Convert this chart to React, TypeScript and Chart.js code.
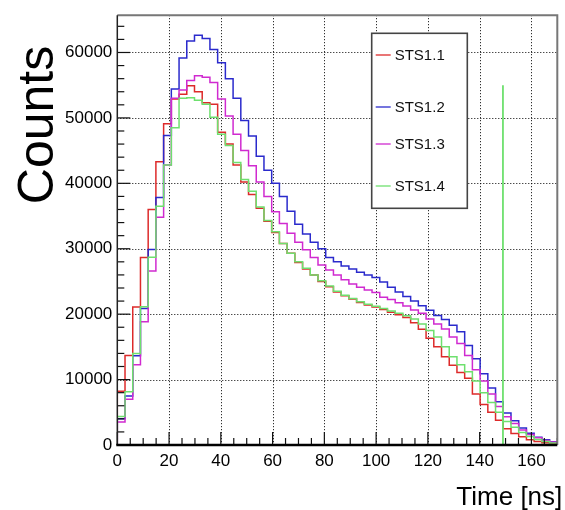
import React, { useEffect, useRef } from "react";
import { Chart, registerables } from "chart.js";

Chart.register(...registerables);

// ---- data ----
const timeMin = 0;
const timeMax = 170;
const countsMax = 65700;
const binCount = 57;
const binWidth = (timeMax - timeMin) / binCount;

const seriesLabels = ["STS1.1", "STS1.2", "STS1.3", "STS1.4"];
const seriesColors = ["#dd2a2a", "#2a2acc", "#d02ad0", "#6ee06e"];

const sts11 = [
  8200, 13700, 21100, 28650, 36000, 43300, 49100, 52900, 53600, 54900,
  54000, 52300, 52100, 47800, 46000, 42800, 40200, 38300, 36200, 34200,
  32500, 30800, 29300, 27900, 26900, 26000, 25000, 24200, 23400, 22800,
  22300, 21800, 21400, 21100, 20700, 20300, 19900, 19500, 18700, 17700,
  16300, 15000, 13500, 12200, 11100, 10200, 7800, 6200, 5000, 3800,
  2500, 1750, 1250, 800, 550, 350, 200,
];
const sts12 = [
  4000, 7500, 13650, 20850, 29900, 37850, 47300, 54400, 59150, 61750,
  62650, 62150, 60450, 58450, 56000, 53000, 49600, 47250, 44150, 42000,
  40000, 38000, 35750, 33750, 32250, 31000, 30000, 28650, 28000, 27350,
  26900, 26400, 26000, 25600, 24900, 24100, 23400, 22700, 22000, 21300,
  20600, 19800, 19200, 18300, 17300, 15200, 13200, 10900, 8700, 6600,
  4900, 3700, 2600, 1800, 1200, 800, 500,
];
const sts13 = [
  3500, 7000, 12250, 18850, 26600, 34800, 42800, 53000, 54250, 55700,
  56450, 56200, 55400, 52900, 50300, 47500, 45000, 42700, 40200, 38000,
  35650, 33850, 32350, 31000, 29850, 28650, 27500, 26750, 26000, 25250,
  24600, 24100, 23700, 23300, 22600, 22250, 21750, 21250, 20650, 20150,
  19250, 18500, 17750, 16500, 15500, 13700, 11500, 9800, 7800, 5900,
  4300, 3300, 2300, 1600, 1100, 700, 450,
];
const sts14 = [
  4350, 8150, 14000, 21150, 28700, 36500, 42800, 48500, 53000, 53100,
  52700, 52100, 50100, 47500, 45800, 43200, 40600, 38800, 36400, 34300,
  32600, 30800, 29300, 28000, 27000, 26000, 25100, 24300, 23500, 22900,
  22400, 21900, 21500, 21200, 20850, 20500, 20150, 19750, 19250, 18500,
  17500, 16500, 15000, 13500, 12250, 11200, 9800, 8000, 6500, 5000,
  3600, 2700, 1900, 1300, 850, 550, 300,
];
const spikeTime = 149;
const spikeCounts = 55000;

const xTickValues = [0, 20, 40, 60, 80, 100, 120, 140, 160];
const yTickValues = [0, 10000, 20000, 30000, 40000, 50000, 60000];
const xMinorStep = 5;
const yMinorStep = 2000;

const xTitle = "Time [ns]";
const yTitle = "Counts";

const FONT = "'Liberation Sans', Arial, Helvetica, sans-serif";

function histPoints(values: number[]) {
  const pts: { x: number; y: number }[] = [{ x: timeMin, y: 0 }];
  values.forEach((v, k) => pts.push({ x: timeMin + k * binWidth, y: v }));
  pts.push({ x: timeMax, y: values[values.length - 1] });
  return pts;
}

const rootPlugin = {
  id: "rootStyle",
  beforeDatasetsDraw(chart: any) {
    const { ctx, chartArea: a, scales } = chart;
    ctx.save();
    ctx.strokeStyle = "#000";
    ctx.lineWidth = 1;
    ctx.setLineDash([1, 2]);
    for (const t of scales.x.ticks) {
      if (t.value <= timeMin) continue;
      const px = Math.round(scales.x.getPixelForValue(t.value)) + 0.5;
      ctx.beginPath();
      ctx.moveTo(px, a.top);
      ctx.lineTo(px, a.bottom);
      ctx.stroke();
    }
    for (const t of scales.y.ticks) {
      if (t.value <= 0) continue;
      const py = Math.round(scales.y.getPixelForValue(t.value)) + 0.5;
      ctx.beginPath();
      ctx.moveTo(a.left, py);
      ctx.lineTo(a.right, py);
      ctx.stroke();
    }
    ctx.restore();
  },
  afterDatasetsDraw(chart: any) {
    const { ctx, chartArea: a, scales } = chart;
    ctx.save();
    ctx.setLineDash([]);
    ctx.strokeStyle = "#111";
    ctx.lineWidth = 1.2;
    for (let v = timeMin; v <= timeMax + 1e-6; v += xMinorStep) {
      const major = xTickValues.includes(v);
      const px = scales.x.getPixelForValue(v);
      ctx.beginPath();
      ctx.moveTo(px, a.bottom);
      ctx.lineTo(px, a.bottom - (major ? 13 : 7));
      ctx.stroke();
    }
    for (let v = 0; v <= countsMax; v += yMinorStep) {
      const major = yTickValues.includes(v);
      const py = scales.y.getPixelForValue(v);
      ctx.beginPath();
      ctx.moveTo(a.left, py);
      ctx.lineTo(a.left + (major ? 13 : 7), py);
      ctx.stroke();
    }
    ctx.strokeStyle = "#777";
    ctx.lineWidth = 2;
    ctx.beginPath();
    ctx.moveTo(a.left, a.top);
    ctx.lineTo(a.right, a.top);
    ctx.lineTo(a.right, a.bottom);
    ctx.stroke();
    ctx.strokeStyle = "#222";
    ctx.lineWidth = 1.5;
    ctx.beginPath();
    ctx.moveTo(a.left, a.top);
    ctx.lineTo(a.left, a.bottom);
    ctx.stroke();
    ctx.strokeStyle = "#000";
    ctx.lineWidth = 2.5;
    ctx.beginPath();
    ctx.moveTo(a.left - 1, a.bottom);
    ctx.lineTo(a.right, a.bottom);
    ctx.stroke();
    ctx.restore();
  },
  afterDraw(chart: any) {
    const { ctx, chartArea: a } = chart;
    ctx.save();
    const bx = 371.7, by = 33.3, bw = 95.6, bh = 175;
    ctx.fillStyle = "#fff";
    ctx.fillRect(bx, by, bw, bh);
    ctx.strokeStyle = "#444";
    ctx.lineWidth = 1.6;
    ctx.strokeRect(bx, by, bw, bh);
    const entryY = [55, 107, 144, 186];
    ctx.font = `15px ${FONT}`;
    ctx.textBaseline = "middle";
    ctx.textAlign = "left";
    seriesLabels.forEach((lab, i) => {
      const y = entryY[i];
      ctx.strokeStyle = seriesColors[i];
      ctx.lineWidth = 1.3;
      ctx.beginPath();
      ctx.moveTo(bx + 4, y);
      ctx.lineTo(bx + 19, y);
      ctx.stroke();
      ctx.fillStyle = "#111";
      ctx.fillText(lab, bx + 23, y + 1);
    });
    ctx.fillStyle = "#000";
    ctx.font = `26px ${FONT}`;
    ctx.textAlign = "right";
    ctx.textBaseline = "alphabetic";
    ctx.fillText(xTitle, a.right + 5, 505);
    ctx.save();
    ctx.translate(53, 125);
    ctx.rotate(-Math.PI / 2);
    ctx.font = `50px ${FONT}`;
    ctx.textAlign = "center";
    ctx.textBaseline = "alphabetic";
    ctx.fillText(yTitle, 0, 0);
    ctx.restore();
    ctx.restore();
  },
};

export default function App() {
  const ref = useRef<HTMLCanvasElement | null>(null);
  useEffect(() => {
    if (!ref.current) return;
    const all = [sts11, sts12, sts13, sts14];
    const datasets: any[] = all.map((vals, i) => ({
      label: seriesLabels[i],
      data: histPoints(vals),
      borderColor: seriesColors[i],
      backgroundColor: seriesColors[i],
      borderWidth: 1.5,
      pointRadius: 0,
      stepped: "before",
      fill: false,
      order: 3 - i,
    }));
    datasets.push({
      label: "spike",
      data: [
        { x: spikeTime, y: 0 },
        { x: spikeTime, y: spikeCounts },
      ],
      borderColor: seriesColors[3],
      borderWidth: 1.8,
      pointRadius: 0,
      fill: false,
      order: 0,
    });
    const chart = new Chart(ref.current, {
      type: "line",
      data: { datasets },
      plugins: [rootPlugin],
      options: {
        animation: false,
        responsive: false,
        devicePixelRatio: 1,
        layout: { padding: { left: 0, right: 7.7, top: 7, bottom: 0 } },
        plugins: { legend: { display: false }, tooltip: { enabled: false } },
        scales: {
          x: {
            type: "linear",
            min: timeMin,
            max: timeMax,
            afterBuildTicks: (s: any) => {
              s.ticks = xTickValues.map((v) => ({ value: v }));
            },
            afterFit: (s: any) => {
              s.height = 65;
            },
            grid: { display: false, drawTicks: false },
            border: { display: false },
            ticks: {
              padding: 6,
              maxRotation: 0,
              autoSkip: false,
              color: "#000",
              font: { family: FONT, size: 17 },
            },
          },
          y: {
            type: "linear",
            min: 0,
            max: countsMax,
            afterBuildTicks: (s: any) => {
              s.ticks = yTickValues.map((v) => ({ value: v }));
            },
            afterFit: (s: any) => {
              s.width = 117.3;
            },
            grid: { display: false, drawTicks: false },
            border: { display: false },
            ticks: {
              padding: 5,
              autoSkip: false,
              color: "#000",
              font: { family: FONT, size: 17 },
              callback: (v: any) => String(v),
            },
          },
        },
      },
    });
    return () => chart.destroy();
  }, []);
  return (
    <div style={{ position: "absolute", left: 0, top: 0, width: 565, height: 510, background: "#fff" }}>
      <canvas ref={ref} width={565} height={510} style={{ width: 565, height: 510, display: "block" }} />
    </div>
  );
}
